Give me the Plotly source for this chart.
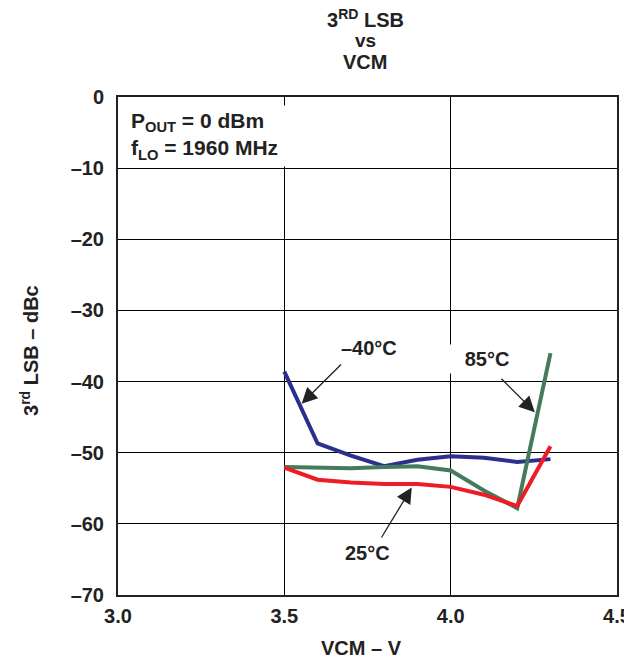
import plotly.graph_objects as go

vcm = [3.5, 3.6, 3.7, 3.8, 3.9, 4.0, 4.1, 4.2, 4.3]
lsb_m40 = [-38.6, -48.7, -50.4, -51.9, -51.0, -50.5, -50.7, -51.3, -50.9]
lsb_85 = [-52.0, -52.1, -52.2, -52.0, -51.9, -52.5, -55.3, -57.8, -36.0]
lsb_25 = [-52.1, -53.8, -54.2, -54.4, -54.4, -54.8, -55.9, -57.5, -49.1]

y_ticks = [0, -10, -20, -30, -40, -50, -60, -70]
y_text = ["0", "–10", "–20", "–30", "–40", "–50", "–60", "–70"]
x_ticks = [3.0, 3.5, 4.0, 4.5]
x_text = ["3.0", "3.5", "4.0", "4.5"]

font = "Liberation Sans, Arial, sans-serif"
ink = "#222222"

fig = go.Figure()
fig.add_trace(go.Scatter(x=vcm, y=lsb_m40, mode="lines", line=dict(color="#2B2F8E", width=4)))
fig.add_trace(go.Scatter(x=vcm, y=lsb_85, mode="lines", line=dict(color="#457B5C", width=4)))
fig.add_trace(go.Scatter(x=vcm, y=lsb_25, mode="lines", line=dict(color="#EE1C25", width=4)))

# arrows (tail -> head)
arrows = [
    ((3.675, -37.4), (3.552, -43.1)),
    ((4.148, -39.4), (4.253, -44.3)),
    ((3.787, -62.3), (3.883, -54.9)),
]
for (tx, ty), (hx, hy) in arrows:
    fig.add_annotation(x=hx, y=hy, ax=tx, ay=ty, xref="x", yref="y", axref="x", ayref="y",
                       text="", showarrow=True, arrowhead=2, arrowsize=2.4, arrowwidth=1.3,
                       arrowcolor=ink)

fig.add_annotation(x=3.754, y=-35.3, text="<b>–40°C</b>", showarrow=False,
                   font=dict(size=20, color=ink, family=font), bgcolor="white", borderpad=4)
# white patch of the 85°C label reaches over the 4.0 grid line
fig.add_annotation(x=4.187, y=-36.8, xanchor="right", text="<b>&nbsp;&nbsp;&nbsp;85°C</b>",
                   showarrow=False, font=dict(size=20, color=ink, family=font),
                   bgcolor="white", borderpad=3)
fig.add_annotation(x=3.751, y=-64.1, text="<b>25°C</b>", showarrow=False,
                   font=dict(size=20, color=ink, family=font), bgcolor="white", borderpad=4)

fig.add_annotation(x=0.0, y=1.0, xref="paper", yref="paper", xanchor="left", yanchor="top",
                   xshift=9, yshift=-8, align="left", showarrow=False,
                   text="<b>P<sub>OUT</sub> = 0 dBm<br>f<sub>LO</sub> = 1960 MHz&nbsp;&nbsp;&nbsp;</b>",
                   font=dict(size=21, color=ink, family=font),
                   bgcolor="white", borderpad=3)

# title, three lines
for txt, shift, sz in [("<b>3<sup>RD</sup> LSB</b>", 79, 20), ("<b>vs</b>", 57, 19), ("<b>VCM</b>", 35, 20)]:
    fig.add_annotation(x=0.495, y=1.0, xref="paper", yref="paper", yshift=shift,
                       xanchor="center", yanchor="middle", showarrow=False, text=txt,
                       font=dict(size=sz, color=ink, family=font))

# axis titles
fig.add_annotation(x=0.487, y=0.0, xref="paper", yref="paper", yshift=-53,
                   xanchor="center", yanchor="middle", showarrow=False,
                   text="<b>VCM – V</b>", font=dict(size=20, color=ink, family=font))
fig.add_annotation(x=0.0, y=0.49, xref="paper", yref="paper", xshift=-88,
                   xanchor="center", yanchor="middle", showarrow=False, textangle=-90,
                   text="<b>3<sup>rd</sup> LSB – dBc</b>", font=dict(size=20, color=ink, family=font))

fig.update_layout(
    width=624, height=654,
    margin=dict(l=110, r=15, t=89, b=67, autoexpand=False),
    plot_bgcolor="white", paper_bgcolor="white",
    showlegend=False,
    font=dict(family=font, size=20, color=ink),
)
fig.update_xaxes(range=[3.0, 4.5], tickvals=x_ticks, ticktext=["<b>%s</b>" % t for t in x_text],
                 showgrid=True, gridcolor="black", gridwidth=1, zeroline=False,
                 showline=True, linecolor=ink, linewidth=2, mirror=True, ticks="",
                 ticklabelstandoff=2, automargin=False)
fig.update_yaxes(range=[-70, 0], tickvals=y_ticks, ticktext=["<b>%s</b>" % t for t in y_text],
                 showgrid=True, gridcolor="black", gridwidth=1, zeroline=False,
                 showline=True, linecolor=ink, linewidth=2, mirror=True, ticks="",
                 ticklabelstandoff=8, automargin=False)

fig.write_html("out.html")
